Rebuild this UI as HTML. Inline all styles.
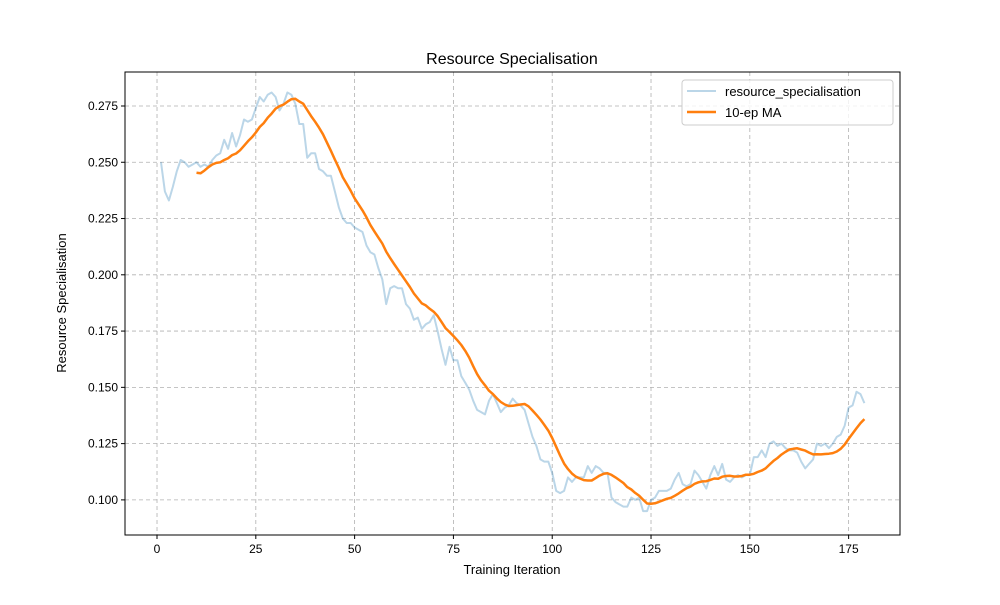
<!DOCTYPE html>
<html><head><meta charset="utf-8"><style>
body{margin:0;background:#fff;}
svg{font-family:"Liberation Sans","DejaVu Sans",sans-serif;}
</style></head><body>
<svg id="chart" width="1000" height="600" viewBox="0 0 1000 600">
<rect width="1000" height="600" fill="#fff"/>
<g id="grid"></g>
<g id="axes"></g>
<g id="series"></g>
<rect x="125" y="72" width="775" height="463" fill="none" stroke="#000" stroke-width="1"/>
<text x="512" y="64" font-size="16" text-anchor="middle">Resource Specialisation</text>
<text x="512" y="574" font-size="13" text-anchor="middle">Training Iteration</text>
<text x="0" y="0" font-size="13" text-anchor="middle" transform="translate(66,303) rotate(-90)">Resource Specialisation</text>
<g>
<rect x="682" y="80" width="211" height="45" rx="3" fill="#fff" fill-opacity="0.8" stroke="#ccc"/>
<line x1="687" y1="91" x2="716" y2="91" stroke="#1f77b4" stroke-opacity="0.3" stroke-width="2"/>
<text x="725" y="96" font-size="13">resource_specialisation</text>
<line x1="687" y1="112" x2="716" y2="112" stroke="#ff7f0e" stroke-width="2.5"/>
<text x="725" y="117" font-size="13">10-ep MA</text>
</g>
</svg>
<script>
const xTicks=[0,25,50,75,100,125,150,175];
const yTicks=[0.100,0.125,0.150,0.175,0.200,0.225,0.250,0.275];
const yTickLabels=["0.100","0.125","0.150","0.175","0.200","0.225","0.250","0.275"];
const rawValues=[0.250,0.237,0.233,0.239,0.246,0.251,0.250,0.248,0.249,0.250,
0.248,0.249,0.248,0.251,0.253,0.254,0.260,0.256,0.263,0.257,
0.262,0.269,0.268,0.269,0.274,0.279,0.277,0.280,0.281,0.279,
0.273,0.276,0.281,0.280,0.276,0.267,0.267,0.252,0.254,0.254,
0.247,0.246,0.244,0.244,0.237,0.230,0.225,0.223,0.223,0.221,
0.220,0.219,0.213,0.210,0.209,0.203,0.198,0.187,0.194,0.195,
0.194,0.194,0.187,0.185,0.180,0.181,0.176,0.178,0.179,0.182,
0.175,0.167,0.160,0.168,0.162,0.162,0.155,0.152,0.149,0.144,
0.140,0.139,0.138,0.144,0.147,0.143,0.139,0.141,0.142,0.145,
0.143,0.142,0.140,0.134,0.128,0.124,0.118,0.117,0.117,0.112,
0.104,0.103,0.104,0.110,0.108,0.110,0.110,0.110,0.115,0.112,
0.115,0.114,0.112,0.112,0.101,0.099,0.098,0.097,0.097,0.101,
0.100,0.101,0.095,0.095,0.100,0.101,0.104,0.104,0.104,0.105,
0.109,0.112,0.107,0.106,0.107,0.113,0.111,0.108,0.105,0.111,
0.115,0.111,0.116,0.109,0.108,0.110,0.111,0.110,0.111,0.111,
0.119,0.119,0.122,0.119,0.125,0.126,0.124,0.125,0.123,0.122,
0.122,0.121,0.117,0.114,0.116,0.118,0.125,0.124,0.125,0.123,
0.125,0.128,0.129,0.133,0.141,0.142,0.148,0.147,0.143];
const firstIter=1;
const maWindow=10;

const X0=125,X1=900,Y0=72,Y1=535;
const xMin=-8.1,xMax=188.0,yMin=0.0844,yMax=0.2901;
const sx=v=>X0+(v-xMin)/(xMax-xMin)*(X1-X0);
const sy=v=>Y1-(v-yMin)/(yMax-yMin)*(Y1-Y0);
const NS="http://www.w3.org/2000/svg";
function mk(tag,attrs,parent){const e=document.createElementNS(NS,tag);for(const k in attrs)e.setAttribute(k,attrs[k]);parent.appendChild(e);return e;}
const grid=document.getElementById('grid'),axes=document.getElementById('axes'),series=document.getElementById('series');
xTicks.forEach(t=>{
  const x=sx(t);
  const g=mk('line',{x1:x,x2:x,y1:Y0,y2:Y1,stroke:'#b0b0b0','stroke-width':0.8,'stroke-dasharray':'4,3'},grid);
  
  
  const tk=mk('line',{x1:x,x2:x,y1:Y1,y2:Y1+4,stroke:'#000'},axes);
  
  
  const tx=mk('text',{x:x,y:Y1+18,'font-size':12,'text-anchor':'middle'},axes);
  tx.textContent=String(t);
  
  
});
yTicks.forEach((t,i)=>{
  const y=sy(t);
  const g=mk('line',{x1:X0,x2:X1,y1:y,y2:y,stroke:'#b0b0b0','stroke-width':0.8,'stroke-dasharray':'4,3'},grid);
  
  
  const tk=mk('line',{x1:X0-4,x2:X0,y1:y,y2:y,stroke:'#000'},axes);
  
  
  const tx=mk('text',{x:X0-7,y:y+4,'font-size':12,'text-anchor':'end'},axes);
  tx.textContent=yTickLabels[i];
  
  
});
const rawPts=rawValues.map((v,i)=>sx(firstIter+i).toFixed(1)+','+sy(v).toFixed(1)).join(' ');
const raw=mk('polyline',{points:rawPts,fill:'none',stroke:'#1f77b4','stroke-opacity':0.3,'stroke-width':2,'stroke-linejoin':'round'},series);


const maPts=[];
for(let i=maWindow-1;i<rawValues.length;i++){
  let s=0;for(let j=i-maWindow+1;j<=i;j++)s+=rawValues[j];
  maPts.push(sx(firstIter+i).toFixed(1)+','+sy(s/maWindow).toFixed(1));
}
const ma=mk('polyline',{points:maPts.join(' '),fill:'none',stroke:'#ff7f0e','stroke-width':2.5,'stroke-linejoin':'round'},series);


</script>
</body></html>
